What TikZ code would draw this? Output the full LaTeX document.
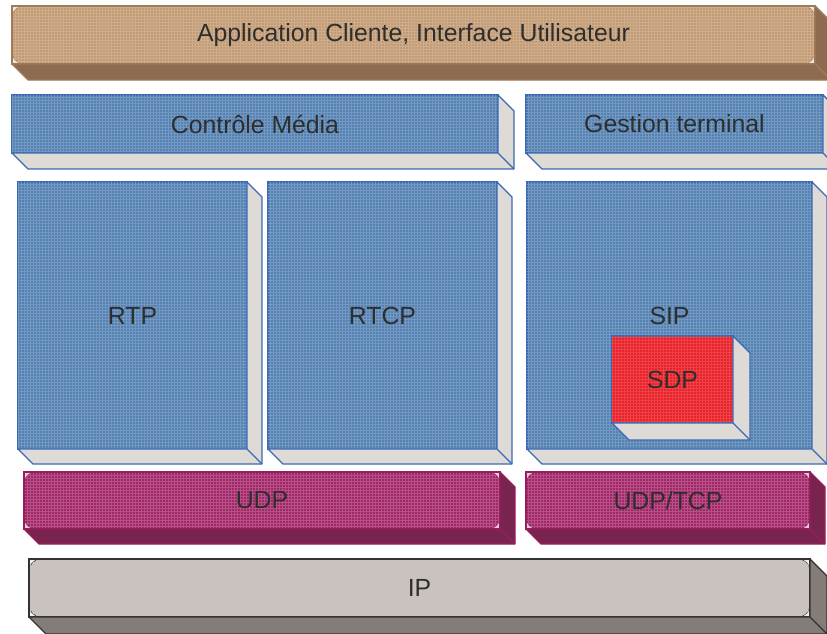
\documentclass[tikz,border=0pt]{standalone}
\usepackage{fontspec}
\setmainfont{Liberation Sans}
\usetikzlibrary{calc, patterns}

\definecolor{TextGrey}{HTML}{2E2E2E}
\definecolor{BrownFace}{HTML}{C19B75}
\definecolor{BrownGrid}{HTML}{CFAD8B}
\definecolor{BrownSide}{HTML}{8C6B50}
\definecolor{BrownEdge}{HTML}{9E7A59}
\definecolor{BlueFace}{HTML}{5381B1}
\definecolor{BlueGrid}{HTML}{7398C2}
\definecolor{BlueEdge}{HTML}{3B69B3}
\definecolor{PaleSide}{HTML}{DEDAD6}
\definecolor{RedFace}{HTML}{E8222A}
\definecolor{RedGrid}{HTML}{EE4248}
\definecolor{PlumFace}{HTML}{A02868}
\definecolor{PlumGrid}{HTML}{B85088}
\definecolor{PlumSide}{HTML}{78244E}
\definecolor{PlumEdge}{HTML}{981D5C}
\definecolor{IPFace}{HTML}{C9C2BE}
\definecolor{IPSide}{HTML}{847C78}
\definecolor{IPEdge}{HTML}{333333}

% bottom and right faces of a slab: node, depth, fill, edge
\newcommand{\slabsides}[4]{%
  \filldraw[fill=#3, draw=#4, line width=1.4pt, line join=round]
    (#1.south west) -- ++(#2,#2) -- ($(#1.south east)+(#2,#2)$)
    -- ($(#1.north east)+(#2,#2)$) -- (#1.north east) -- (#1.south east) -- cycle;
  \draw[#4, line width=1.4pt] (#1.south east) -- ++(#2,#2);}

\tikzset{
  layer/.style={anchor=north west, inner sep=0pt, outer sep=0pt, line width=1.4pt,
    text=TextGrey, font=\fontsize{24.8}{28}\selectfont},
  boxface/.style n args={3}{layer, draw=#3, fill=#1,
    postaction={pattern=grid, pattern color=#2}},
  roundface/.style n args={3}{layer, draw=#3, fill=white!75!#1,
    path picture={
      \path[fill=#1, postaction={pattern=grid, pattern color=#2}, draw=#3,
        line width=.6pt, rounded corners=12pt]
        (path picture bounding box.north west) rectangle
        (path picture bounding box.south east);}},
}

\begin{document}
\begin{tikzpicture}[x=1pt, y=-1pt]
  \useasboundingbox (0,0) rectangle (827,634);

  % application layer
  \node[roundface={BrownFace}{BrownGrid}{BrownEdge}, minimum width=803pt, minimum height=58pt]
    (app) at (12,6) {Application Cliente, Interface Utilisateur};
  \slabsides{app}{16}{BrownSide}{BrownEdge}

  % control
  \node[boxface={BlueFace}{BlueGrid}{BlueEdge}, minimum width=486pt, minimum height=58pt]
    (media) at (12,95) {Contrôle Média};
  \slabsides{media}{16}{PaleSide}{BlueEdge}
  \node[boxface={BlueFace}{BlueGrid}{BlueEdge}, minimum width=297pt, minimum height=58pt]
    (term) at (526,95) {Gestion terminal};
  \slabsides{term}{16}{PaleSide}{BlueEdge}

  % protocols
  \node[boxface={BlueFace}{BlueGrid}{BlueEdge}, minimum width=229pt, minimum height=267pt]
    (rtp) at (18,182) {RTP};
  \slabsides{rtp}{15}{PaleSide}{BlueEdge}
  \node[boxface={BlueFace}{BlueGrid}{BlueEdge}, minimum width=229pt, minimum height=267pt]
    (rtcp) at (268,182) {RTCP};
  \slabsides{rtcp}{15}{PaleSide}{BlueEdge}
  \node[boxface={BlueFace}{BlueGrid}{BlueEdge}, minimum width=285pt, minimum height=267pt]
    (sip) at (527,182) {SIP};
  \slabsides{sip}{15}{PaleSide}{BlueEdge}
  \node[boxface={RedFace}{RedGrid}{BlueEdge}, minimum width=121pt, minimum height=87pt]
    (sdp) at (612,336) {SDP};
  \slabsides{sdp}{17}{PaleSide}{BlueEdge}

  % transport
  \node[roundface={PlumFace}{PlumGrid}{PlumEdge}, minimum width=476pt, minimum height=57pt]
    (udp) at (24,472) {UDP};
  \slabsides{udp}{15}{PlumSide}{PlumEdge}
  \node[roundface={PlumFace}{PlumGrid}{PlumEdge}, minimum width=284pt, minimum height=57pt]
    (udptcp) at (526,472) {UDP/TCP};
  \slabsides{udptcp}{15}{PlumSide}{PlumEdge}

  % network
  \node[roundface={IPFace}{IPFace}{IPEdge}, line width=2.4pt, minimum width=781pt, minimum height=58pt]
    (ip) at (29,559) {IP};
  \slabsides{ip}{17}{IPSide}{IPEdge}
\end{tikzpicture}
\end{document}
